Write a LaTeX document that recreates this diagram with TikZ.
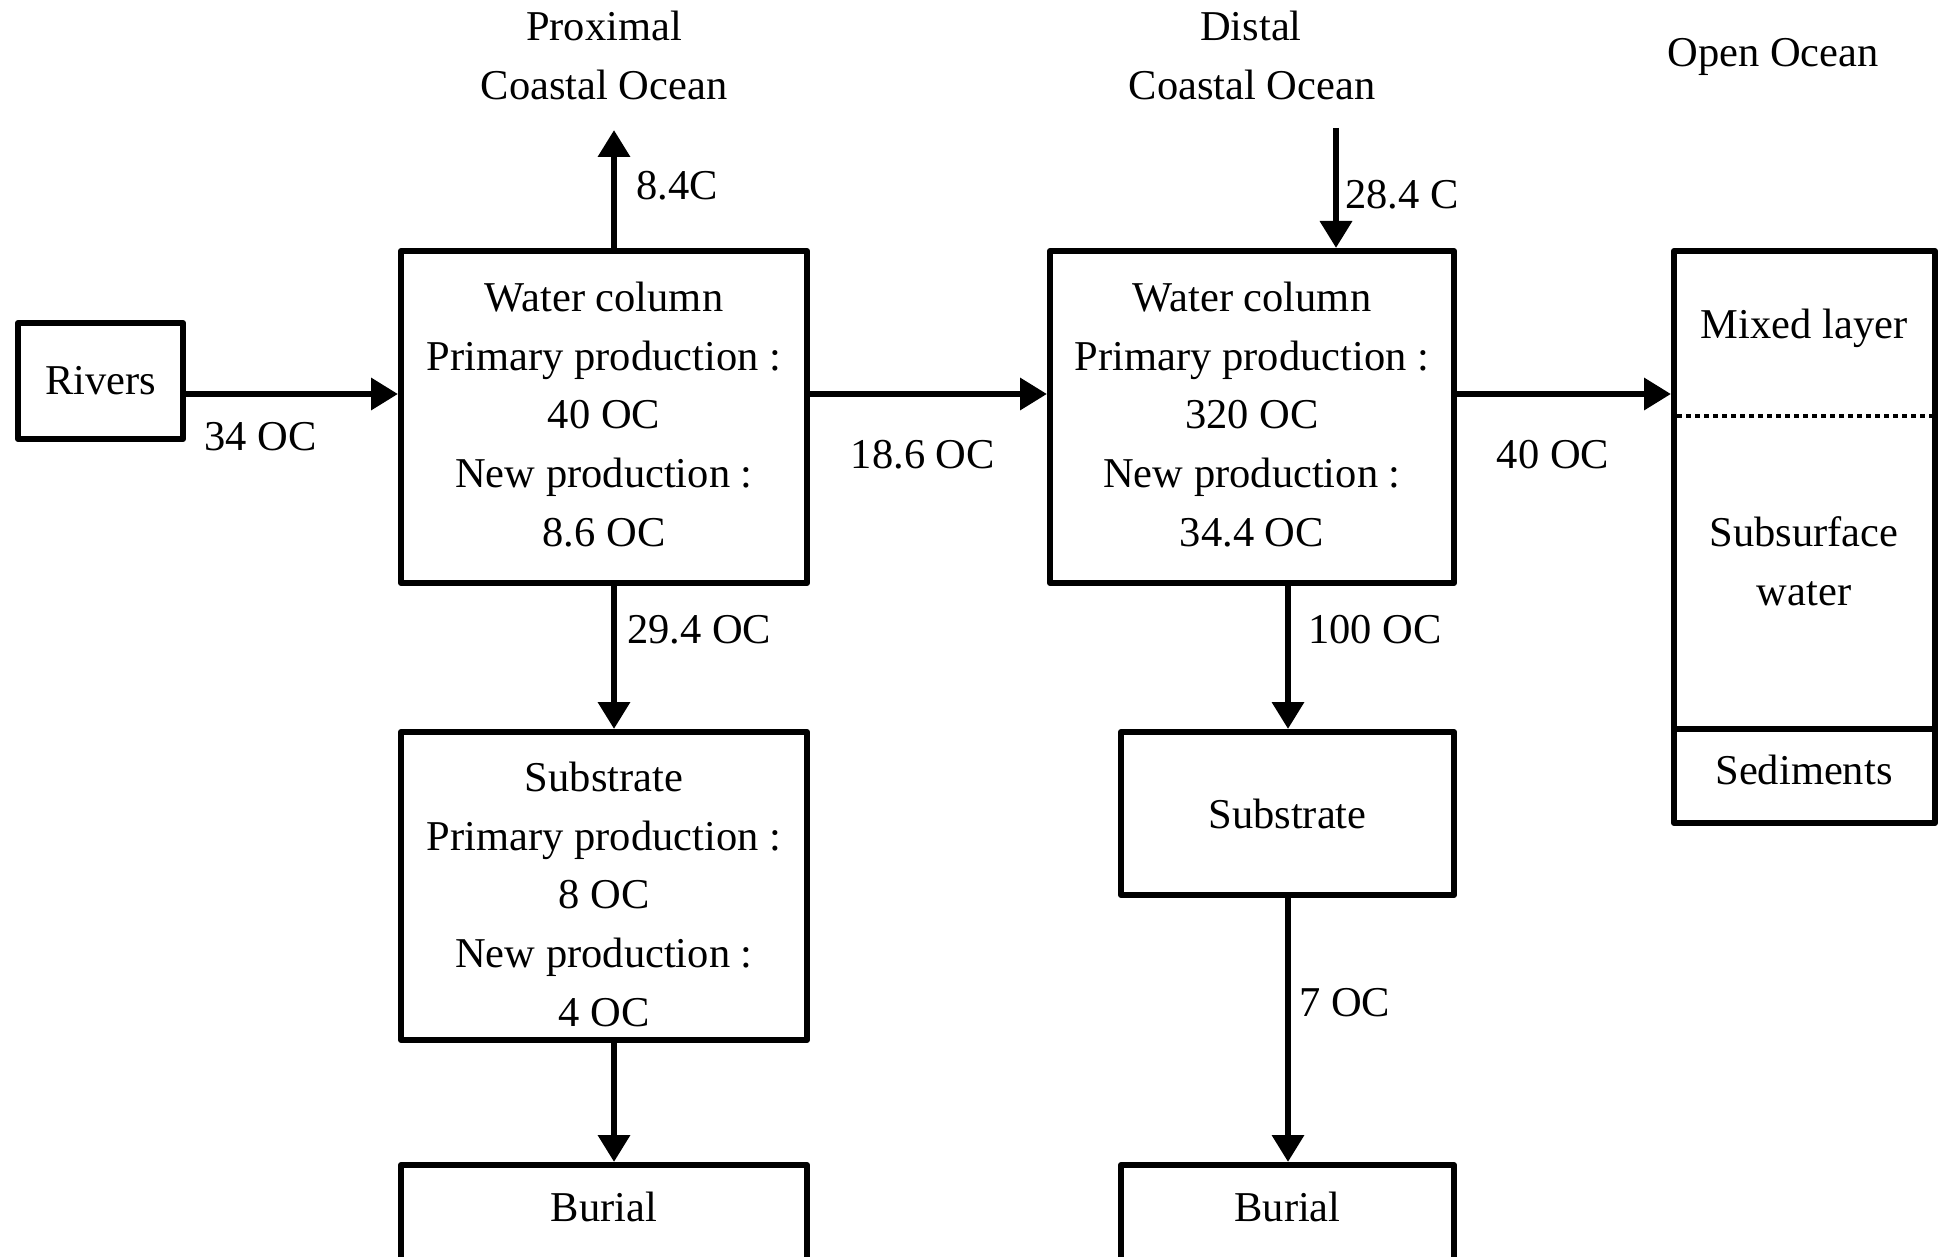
\documentclass[tikz,border=0pt]{standalone}
\usepackage{fontspec}
\setmainfont{Liberation Serif}
\usetikzlibrary{arrows.meta}
\begin{document}
\begin{tikzpicture}[x=1pt,y=-1pt,
  every node/.style={font=\fontsize{42.5}{58.7}\selectfont, inner sep=0pt},
  box/.style={draw, line width=6pt, line join=round, rectangle, align=center},
  flow/.style={line width=6.5pt, -{Triangle[length=27pt,width=31pt]}},
  lbl/.style={anchor=base west},
  ttl/.style={anchor=base},
]
\useasboundingbox (0,0) rectangle (1948,1257);

% boxes
\node[box, minimum width=165pt, minimum height=116pt] (riv) at (100.5,381) {Rivers};
\node[box, minimum width=406pt, minimum height=332pt] (pwc) at (604,417)
  {Water column\\Primary production :\\40 OC\\New production :\\8.6 OC\rule[-6pt]{0pt}{6pt}};
\node[box, minimum width=406pt, minimum height=308pt] (psub) at (604,886)
  {\rule{0pt}{46pt}Substrate\\Primary production :\\8 OC\\New production :\\4 OC};
\node[box, minimum width=406pt, minimum height=102pt, text height=28pt, text depth=18pt] (pbur) at (604,1216) {Burial};
\node[box, minimum width=404pt, minimum height=332pt] (dwc) at (1252,417)
  {Water column\\Primary production :\\320 OC\\New production :\\34.4 OC\rule[-6pt]{0pt}{6pt}};
\node[box, minimum width=333pt, minimum height=163pt] (dsub) at (1287.5,813.5) {Substrate};
\node[box, minimum width=333pt, minimum height=102pt, text height=28pt, text depth=18pt] (dbur) at (1287.5,1216) {Burial};
\node[box, minimum width=261pt, minimum height=572pt] (ocean) at (1804.5,537) {};

% open ocean inner texts and divisions
\node (mix) at (1804,328) {Mixed layer};
\node[align=center] (subw) at (1804,561) {Subsurface\\water};
\node (sed) at (1804,770) {Sediments};
\coordinate (dl) at (1677,416);
\coordinate (dr) at (1932,416);
\coordinate (sl) at (1671,729);
\coordinate (sr) at (1938,729);
\draw[line width=4.5pt, dash pattern=on 5pt off 4pt] (dl) -- (dr);
\draw[line width=6pt] (sl) -- (sr);

% titles
\node[ttl] (prox) at (604,41) {Proximal};
\node[ttl] (proxc) at (604,100) {Coastal Ocean};
\node[ttl] (dist) at (1251,41) {Distal};
\node[ttl] (distc) at (1252,100) {Coastal Ocean};
\node[ttl] (open) at (1773,67) {Open Ocean};

% connectors
\coordinate (pcol) at (614,0);
\coordinate (dcol) at (1288,0);
\coordinate (topcol) at (1336,0);
\coordinate (flowy) at (0,394);
\coordinate (pup) at (614,130);
\coordinate (dtop) at (1336,128);

\draw[flow] (riv.east |- flowy) -- (pwc.west |- flowy);
\draw[flow] (pwc.east |- flowy) -- (dwc.west |- flowy);
\draw[flow] (dwc.east |- flowy) -- (ocean.west |- flowy);
\draw[flow] (pwc.north -| pcol) -- (pup);
\draw[flow] (dtop) -- (dwc.north -| topcol);
\draw[flow] (pwc.south -| pcol) -- (psub.north -| pcol);
\draw[flow] (psub.south -| pcol) -- (pbur.north -| pcol);
\draw[flow] (dwc.south -| dcol) -- (dsub.north -| dcol);
\draw[flow] (dsub.south -| dcol) -- (dbur.north -| dcol);

% flow labels
\node[lbl] (l84) at (636,200) {8.4C};
\node[lbl] (l284) at (1345,209) {28.4 C};
\node[lbl] (l34) at (204,450) {34 OC};
\node[ttl] (l186) at (923,468) {18.6 OC};
\node[ttl] (l40) at (1553,468) {40 OC};
\node[lbl] (l294) at (627,643) {29.4 OC};
\node[lbl] (l100) at (1308,643) {100 OC};
\node[lbl] (l7) at (1299,1016) {7 OC};
\end{tikzpicture}
\end{document}
